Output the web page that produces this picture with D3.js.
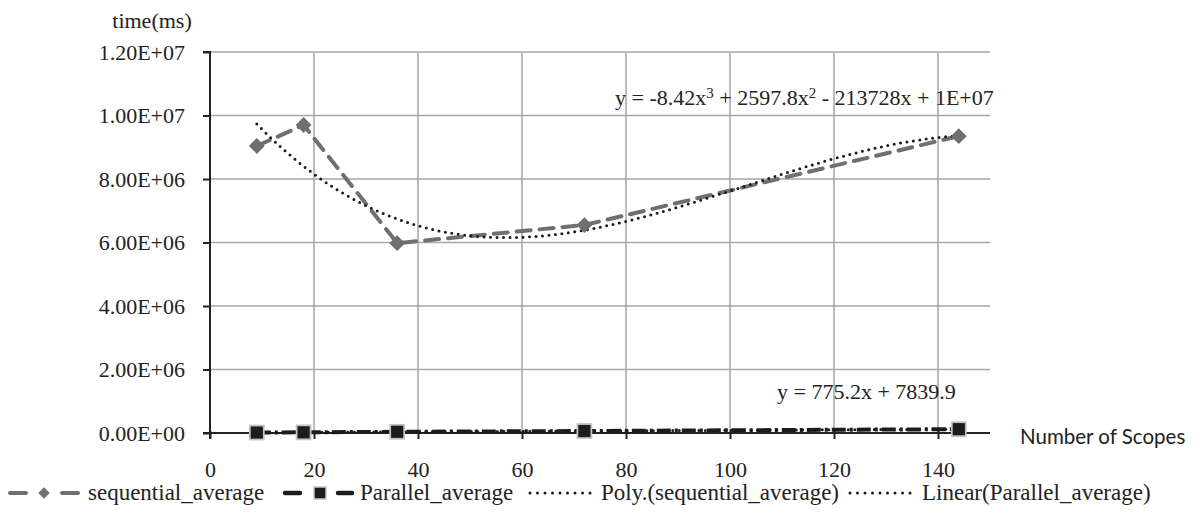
<!DOCTYPE html>
<html><head><meta charset="utf-8">
<script src="https://cdn.jsdelivr.net/npm/d3@7"></script>
<style>
body{margin:0;background:#fff;}
text{font-family:"Liberation Serif",serif;fill:#222;}
</style></head>
<body><svg id="c" width="1197" height="520"></svg>
<script>
const scopes = [9, 18, 36, 72, 144];
const sequentialAvg = [9.04e6, 9.7e6, 5.98e6, 6.55e6, 9.35e6];
const parallelAvg = [14000, 21000, 38000, 62000, 120000];
const yTicks = [0, 2e6, 4e6, 6e6, 8e6, 1e7, 1.2e7];
const yTickLabels = ["0.00E+00","2.00E+06","4.00E+06","6.00E+06","8.00E+06","1.00E+07","1.20E+07"];
const xTicks = [0, 20, 40, 60, 80, 100, 120, 140];
const legendLabels = ["sequential_average","Parallel_average","Poly.(sequential_average)","Linear(Parallel_average)"];

const svg = d3.select("#c");
const L = 210, R = 990, T = 52, B = 433;
const x = d3.scaleLinear().domain([0,150]).range([L,R]);
const y = d3.scaleLinear().domain([0,1.2e7]).range([B,T]);
const FS = "22px";

// least squares polynomial fit (trendlines derived from the data)
function polyfit(xs, ys, deg){
  const n = deg+1;
  const A = Array.from({length:n},()=>new Array(n+1).fill(0));
  for(let r=0;r<n;r++){
    for(let c=0;c<n;c++) A[r][c]=d3.sum(xs,v=>Math.pow(v,r+c));
    A[r][n]=d3.sum(xs,(v,i)=>Math.pow(v,r)*ys[i]);
  }
  for(let i=0;i<n;i++){
    let p=i; for(let k=i+1;k<n;k++) if(Math.abs(A[k][i])>Math.abs(A[p][i])) p=k;
    [A[i],A[p]]=[A[p],A[i]];
    for(let k=0;k<n;k++){ if(k===i) continue; const f=A[k][i]/A[i][i]; for(let j=i;j<=n;j++) A[k][j]-=f*A[i][j]; }
  }
  return A.map((row,i)=>row[n]/row[i]);
}
const polyC = polyfit(scopes, sequentialAvg, 3);
const linC = polyfit(scopes, parallelAvg, 1);
const evalP = (c,v)=>c.reduce((s,a,i)=>s+a*Math.pow(v,i),0);
const trendX = d3.range(scopes[0], scopes[scopes.length-1]+0.01, 0.5);

// grid
const g = svg.append("g");
g.selectAll(".hg").data(yTicks.filter(d=>d>0)).join("line")
 .attr("x1",L).attr("x2",R).attr("y1",d=>y(d)).attr("y2",d=>y(d))
 .attr("stroke","#a6a6a6").attr("stroke-width",1.5);
g.selectAll(".vg").data(xTicks.filter(d=>d>0)).join("line")
 .attr("x1",d=>x(d)).attr("x2",d=>x(d)).attr("y1",T).attr("y2",B)
 .attr("stroke","#a6a6a6").attr("stroke-width",1.5);

// axes
const ya = svg.append("g").attr("transform",`translate(${L},0)`)
 .call(d3.axisLeft(y).tickValues(yTicks).tickFormat((d,i)=>yTickLabels[i]).tickSize(7).tickPadding(18));
ya.select(".domain").attr("stroke","#222").attr("stroke-width",2).attr("d",`M-7,${T}H0V${B+6}`);
ya.selectAll(".tick line").attr("stroke","#222").attr("stroke-width",2);
ya.selectAll(".tick text").style("font-family","Liberation Serif").style("font-size",FS).attr("fill","#222");

const xa = svg.append("g").attr("transform",`translate(0,${B})`)
 .call(d3.axisBottom(x).tickValues(xTicks).tickSize(6).tickPadding(22));
xa.select(".domain").attr("stroke","#222").attr("stroke-width",2).attr("d",`M${L-7},0H${R}`);
xa.selectAll(".tick line").attr("stroke","#222").attr("stroke-width",2).attr("y1",-2);
xa.selectAll(".tick text").style("font-family","Liberation Serif").style("font-size",FS).attr("fill","#222");

svg.append("text").attr("x",152).attr("y",28).attr("text-anchor","middle").style("font-size",FS).text("time(ms)");
svg.append("text").attr("x",1020).attr("y",444).style("font-family","Lato").style("font-size","20.5px").text("Number of Scopes");

const line = d3.line().x(d=>x(d[0])).y(d=>y(d[1]));
const seqColor = "#6f6f6f", parColor = "#1c1c1c";

// series lines
svg.append("path").attr("d",line(scopes.map((v,i)=>[v,sequentialAvg[i]])))
 .attr("fill","none").attr("stroke",seqColor).attr("stroke-width",4).attr("stroke-dasharray","14,9").attr("stroke-linecap","round");
svg.append("path").attr("d",line(scopes.map((v,i)=>[v,parallelAvg[i]])))
 .attr("fill","none").attr("stroke",parColor).attr("stroke-width",4).attr("stroke-dasharray","14,4,3,4");

// trendlines
svg.append("path").attr("d",line(trendX.map(v=>[v,evalP(polyC,v)])))
 .attr("fill","none").attr("stroke","#1c1c1c").attr("stroke-width",3).attr("stroke-dasharray","0,6.5").attr("stroke-linecap","round");
svg.append("path").attr("d",line(trendX.map(v=>[v,evalP(linC,v)])))
 .attr("fill","none").attr("stroke","#1c1c1c").attr("stroke-width",3).attr("stroke-dasharray","0,6.5").attr("stroke-linecap","round");

// markers
svg.selectAll(".dm").data(scopes).join("path")
 .attr("transform",(d,i)=>`translate(${x(d)},${y(sequentialAvg[i])}) rotate(45)`)
 .attr("d",d3.symbol().type(d3.symbolSquare).size(125)).attr("fill",seqColor);
svg.selectAll(".sq").data(scopes).join("rect")
 .attr("x",(d)=>x(d)-7).attr("y",(d,i)=>y(parallelAvg[i])-7).attr("width",14).attr("height",14)
 .attr("fill",parColor).attr("stroke","#c4c4c4").attr("stroke-width",1.8);

// equations
const eq1 = svg.append("text").attr("x",615).attr("y",105).style("font-size",FS);
eq1.append("tspan").text("y = -8.42x");
eq1.append("tspan").attr("dy",-7).style("font-size","15px").text("3");
eq1.append("tspan").attr("dy",7).text(" + 2597.8x");
eq1.append("tspan").attr("dy",-7).style("font-size","15px").text("2");
eq1.append("tspan").attr("dy",7).text(" - 213728x + 1E+07");
svg.append("text").attr("x",777).attr("y",399).style("font-size",FS).text("y = 775.2x + 7839.9");

// legend
const ly = 493, LFS = "23px";
const lg = svg.append("g");
// item1: sequential
[[10,26],[62,78]].forEach(s=>lg.append("line").attr("x1",s[0]).attr("x2",s[1]).attr("y1",ly).attr("y2",ly).attr("stroke",seqColor).attr("stroke-width",4).attr("stroke-linecap","round"));
lg.append("path").attr("transform",`translate(44,${ly}) rotate(45)`).attr("d",d3.symbol().type(d3.symbolSquare).size(64)).attr("fill",seqColor);
lg.append("text").attr("x",88).attr("y",ly+7).style("font-size",LFS).text(legendLabels[0]);
// item2: parallel
[[285,300],[338,352]].forEach(s=>lg.append("line").attr("x1",s[0]).attr("x2",s[1]).attr("y1",ly).attr("y2",ly).attr("stroke",parColor).attr("stroke-width",4.5).attr("stroke-linecap","round"));
lg.append("rect").attr("x",314).attr("y",ly-6).attr("width",12).attr("height",12).attr("fill",parColor).attr("stroke","#c4c4c4").attr("stroke-width",1.5);
lg.append("text").attr("x",360).attr("y",ly+7).style("font-size",LFS).text(legendLabels[1]);
// item3: poly
lg.append("line").attr("x1",530).attr("x2",592).attr("y1",ly).attr("y2",ly).attr("stroke","#1c1c1c").attr("stroke-width",3).attr("stroke-dasharray","0,7.5").attr("stroke-linecap","round");
lg.append("text").attr("x",601).attr("y",ly+7).style("font-size",LFS).text(legendLabels[2]);
// item4: linear
lg.append("line").attr("x1",850).attr("x2",912).attr("y1",ly).attr("y2",ly).attr("stroke","#1c1c1c").attr("stroke-width",3).attr("stroke-dasharray","0,7.5").attr("stroke-linecap","round");
lg.append("text").attr("x",922).attr("y",ly+7).style("font-size",LFS).text(legendLabels[3]);
</script></body></html>
